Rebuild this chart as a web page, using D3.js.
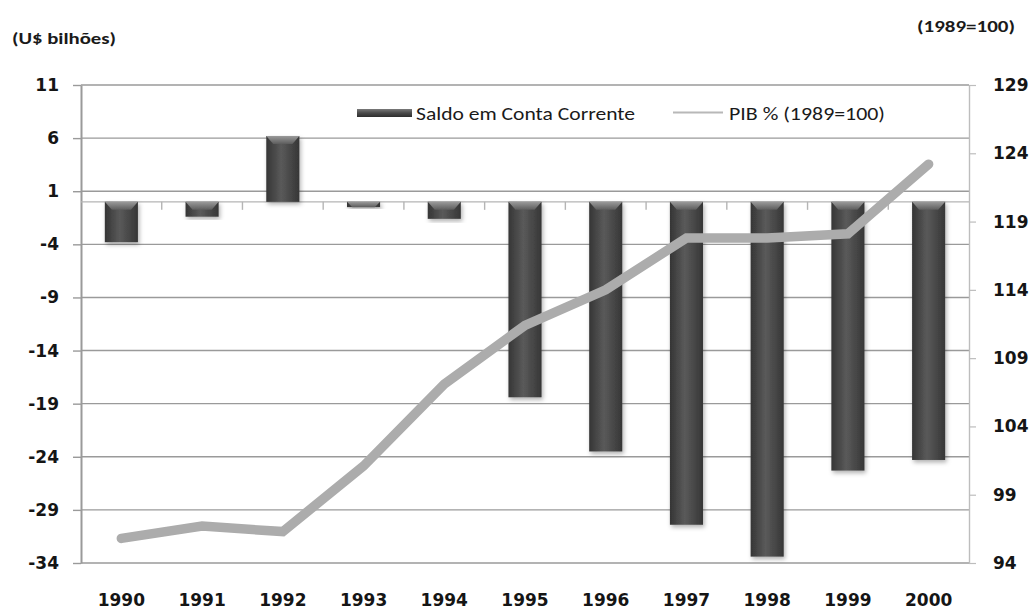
<!DOCTYPE html>
<html>
<head>
<meta charset="utf-8">
<script src="https://cdn.jsdelivr.net/npm/d3@7"></script>
<style>
  html, body { margin: 0; padding: 0; background: #ffffff; }
  svg { display: block; }
  .tick text { font-family: "DejaVu Sans", Verdana, sans-serif; font-weight: bold; font-size: 17px; fill: #151515; }
  .note { font-family: Carlito, Lato, "Open Sans", sans-serif; fill: #1a1a1a; }
</style>
</head>
<body>
<script>
// Brazil: current account balance (US$ billions) and GDP index (1989 = 100)
const years = [1990, 1991, 1992, 1993, 1994, 1995, 1996, 1997, 1998, 1999, 2000];
const saldo = [-3.8, -1.4, 6.2, -0.5, -1.6, -18.4, -23.5, -30.4, -33.4, -25.3, -24.3];
const pib = [95.8, 96.7, 96.3, 101.1, 107.1, 111.4, 114.0, 117.8, 117.8, 118.1, 123.2];
const leftTicks = [11, 6, 1, -4, -9, -14, -19, -24, -29, -34];
const rightTicks = [129, 124, 119, 114, 109, 104, 99, 94];
const legendLabels = ["Saldo em Conta Corrente", "PIB % (1989=100)"];
const leftUnit = "(U$ bilhões)";
const rightUnit = "(1989=100)";

const W = 1032, H = 610;
const svg = d3.select("body").append("svg").attr("width", W).attr("height", H);

const x = d3.scaleBand().domain(years).range([81, 969]).paddingInner(0.59).paddingOuter(0.295);
const yL = d3.scaleLinear().domain([-34, 11]).range([563, 85]);
const yR = d3.scaleLinear().domain([94, 129]).range([563, 85]);
const plain = d => String(d); // keep the ASCII hyphen for negatives

// gradients and shadow for the bars
const defs = svg.append("defs");
const barGrad = defs.append("linearGradient").attr("id", "barGrad").attr("x1", 0).attr("x2", 1).attr("y1", 0).attr("y2", 0);
barGrad.append("stop").attr("offset", "0%").attr("stop-color", "#353535");
barGrad.append("stop").attr("offset", "45%").attr("stop-color", "#5a5a5a");
barGrad.append("stop").attr("offset", "100%").attr("stop-color", "#363636");
const bevelGrad = defs.append("linearGradient").attr("id", "bevelGrad").attr("x1", 0).attr("x2", 0).attr("y1", 0).attr("y2", 1);
bevelGrad.append("stop").attr("offset", "0%").attr("stop-color", "#9a9a9a");
bevelGrad.append("stop").attr("offset", "100%").attr("stop-color", "#5c5c5c");
const swatchGrad = defs.append("linearGradient").attr("id", "swatchGrad").attr("x1", 0).attr("x2", 0).attr("y1", 0).attr("y2", 1);
swatchGrad.append("stop").attr("offset", "0%").attr("stop-color", "#7a7a7a");
swatchGrad.append("stop").attr("offset", "50%").attr("stop-color", "#4a4a4a");
swatchGrad.append("stop").attr("offset", "100%").attr("stop-color", "#2e2e2e");
const shadow = defs.append("filter").attr("id", "shadow").attr("x", "-30%").attr("y", "-10%").attr("width", "160%").attr("height", "130%");
shadow.append("feDropShadow").attr("dx", 1.5).attr("dy", 2.5).attr("stdDeviation", 2).attr("flood-color", "#000").attr("flood-opacity", 0.3);

// horizontal gridlines
svg.append("g").selectAll("line").data(leftTicks).join("line")
  .attr("x1", 81).attr("x2", 969)
  .attr("y1", d => yL(d)).attr("y2", d => yL(d))
  .attr("stroke", "#9a9a9a").attr("stroke-width", 1.4);

// left axis
const axL = svg.append("g").attr("transform", "translate(81,0)")
  .call(d3.axisLeft(yL).tickValues(leftTicks).tickFormat(plain).tickSize(8).tickSizeOuter(0).tickPadding(14));
axL.select(".domain").attr("stroke", "#9a9a9a").attr("stroke-width", 2);
axL.selectAll(".tick line").attr("stroke", "#9a9a9a").attr("stroke-width", 1.4);

// right axis
const axR = svg.append("g").attr("transform", "translate(969,0)")
  .call(d3.axisRight(yR).tickValues(rightTicks).tickFormat(plain).tickSize(7).tickSizeOuter(0).tickPadding(17));
axR.select(".domain").attr("stroke", "#bdbdbd").attr("stroke-width", 1.4);
axR.selectAll(".tick line").attr("stroke", "#bdbdbd").attr("stroke-width", 1.2);

// category axis crossing at zero, with ticks between the years
const y0 = yL(0);
const boundaries = d3.range(1, years.length).map(i => x.range()[0] + i * x.step());
const catAxis = svg.append("g");
catAxis.append("line").attr("x1", 81).attr("x2", 969).attr("y1", y0).attr("y2", y0)
  .attr("stroke", "#b5b5b5").attr("stroke-width", 1.4);
catAxis.selectAll("line.tk").data(boundaries).join("line").attr("class", "tk")
  .attr("x1", d => d).attr("x2", d => d).attr("y1", y0).attr("y2", y0 + 8)
  .attr("stroke", "#b5b5b5").attr("stroke-width", 1.4);

// year labels
const axB = svg.append("g").attr("transform", "translate(0,563)")
  .call(d3.axisBottom(x).tickFormat(plain).tickSize(0).tickPadding(31));
axB.select(".domain").remove();

// bars
const barData = years.map((yr, i) => ({ yr, v: saldo[i] }));
const bars = svg.append("g").selectAll("g").data(barData).join("g").attr("filter", "url(#shadow)");
bars.append("rect")
  .attr("x", d => x(d.yr))
  .attr("y", d => yL(Math.max(0, d.v)))
  .attr("width", x.bandwidth())
  .attr("height", d => Math.abs(yL(d.v) - yL(0)))
  .attr("fill", "url(#barGrad)");
bars.append("path")
  .attr("d", d => {
    const x0 = x(d.yr), w = x.bandwidth();
    const top = yL(Math.max(0, d.v));
    const h = Math.min(8, Math.abs(yL(d.v) - yL(0)));
    const inset = Math.min(7, h);
    return `M${x0},${top}L${x0 + w},${top}L${x0 + w - inset},${top + h}L${x0 + inset},${top + h}Z`;
  })
  .attr("fill", "url(#bevelGrad)");

// GDP index line
const line = d3.line()
  .x(d => x(d.yr) + x.bandwidth() / 2)
  .y(d => yR(d.v));
svg.append("path")
  .datum(years.map((yr, i) => ({ yr, v: pib[i] })))
  .attr("d", line)
  .attr("fill", "none")
  .attr("stroke", "#acacac")
  .attr("stroke-width", 9.5)
  .attr("stroke-linecap", "round")
  .attr("stroke-linejoin", "miter");

// legend
const lg = svg.append("g");
lg.append("rect").attr("x", 357).attr("y", 109).attr("width", 55).attr("height", 8).attr("fill", "url(#swatchGrad)");
lg.append("text").attr("class", "note").attr("x", 416).attr("y", 120)
  .attr("font-size", 18).attr("textLength", 219).attr("lengthAdjust", "spacingAndGlyphs")
  .text(legendLabels[0]);
lg.append("line").attr("x1", 673).attr("x2", 723).attr("y1", 112.5).attr("y2", 112.5)
  .attr("stroke", "#b8b8b8").attr("stroke-width", 2);
lg.append("text").attr("class", "note").attr("x", 729).attr("y", 120)
  .attr("font-size", 18).attr("textLength", 156).attr("lengthAdjust", "spacingAndGlyphs")
  .text(legendLabels[1]);

// axis unit notes
svg.append("text").attr("class", "note").attr("x", 12).attr("y", 44)
  .attr("font-size", 16).attr("font-weight", "bold")
  .attr("textLength", 104).attr("lengthAdjust", "spacingAndGlyphs")
  .text(leftUnit);
svg.append("text").attr("class", "note").attr("x", 917).attr("y", 32)
  .attr("font-size", 16).attr("font-weight", "bold")
  .attr("textLength", 98).attr("lengthAdjust", "spacingAndGlyphs")
  .text(rightUnit);
</script>
</body>
</html>
